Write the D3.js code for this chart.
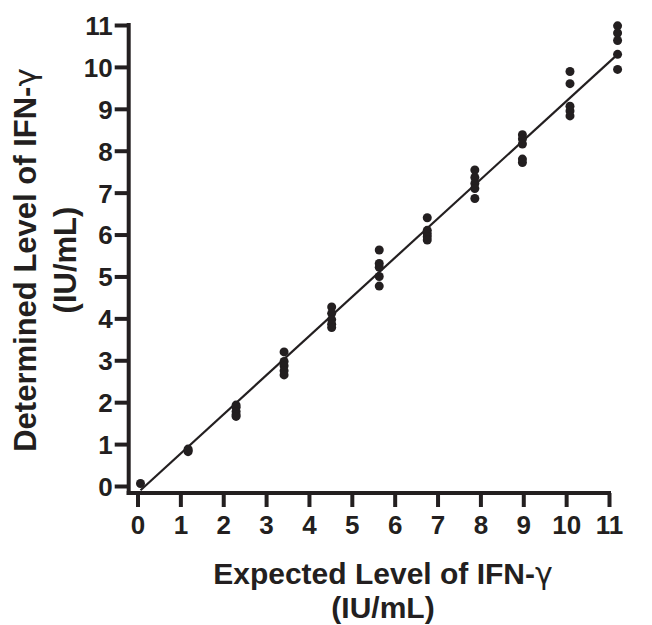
<!DOCTYPE html>
<html>
<head>
<meta charset="utf-8">
<script src="https://cdn.jsdelivr.net/npm/d3@7"></script>
<style>
  html, body { margin: 0; padding: 0; background: #fff; }
  svg { display: block; }
  text { font-family: "Liberation Sans", Arial, sans-serif; font-weight: bold; fill: #231f20; }
  tspan.greek { font-family: "DejaVu Sans", sans-serif; font-weight: normal; }
</style>
</head>
<body>
<svg id="chart" width="652" height="625"></svg>
<script>
// ---- Data ----
const expected = [0.07, 1.18, 2.3, 3.42, 4.53, 5.64, 6.76, 7.87, 8.98, 10.09, 11.2];
const determined = [
  [0.06],
  [0.82, 0.85, 0.88],
  [1.93, 1.88, 1.78, 1.70, 1.66],
  [3.20, 2.97, 2.87, 2.75, 2.65],
  [4.27, 4.12, 3.97, 3.86, 3.78],
  [5.63, 5.31, 5.22, 5.00, 4.77],
  [6.40, 6.10, 6.02, 5.95, 5.87],
  [7.54, 7.36, 7.22, 7.10, 6.86],
  [8.38, 8.28, 8.16, 7.80, 7.72],
  [9.89, 9.60, 9.06, 8.95, 8.83],
  [10.98, 10.81, 10.63, 10.30, 9.94]
];
const fitX = [0.07, 11.2];
const fitY = [-0.1, 10.3];
const xTicks = [0, 1, 2, 3, 4, 5, 6, 7, 8, 9, 10, 11];
const yTicks = [0, 1, 2, 3, 4, 5, 6, 7, 8, 9, 10, 11];
const xTitle = ["Expected Level of IFN-", "\u03B3", "(IU/mL)"];
const yTitle = ["Determined Level of IFN-", "\u03B3", "(IU/mL)"];

const ink = "#231f20";
const svg = d3.select("#chart");

const x = d3.scaleLinear().domain([0, 11]).range([137.5, 609]);
const y = d3.scaleLinear().domain([0, 11]).range([486, 25]);

const xAxisY = 493;
const yAxisX = 128.7;

// X axis (offset below the plot)
const gx = svg.append("g").attr("transform", `translate(0,${xAxisY})`)
  .call(d3.axisBottom(x).tickValues(xTicks).tickFormat(d3.format("d")).tickSize(14).tickPadding(9));
gx.select(".domain").remove();
gx.append("line").attr("x1", yAxisX - 2).attr("x2", x(11) + 2).attr("y1", 0).attr("y2", 0)
  .attr("stroke", ink).attr("stroke-width", 4);
gx.selectAll(".tick line").attr("stroke", ink).attr("stroke-width", 4);
gx.selectAll(".tick text").attr("fill", ink).style("font-size", "26px").attr("dy", "0.71em");

// Y axis (offset left of the plot)
const gy = svg.append("g").attr("transform", `translate(${yAxisX},0)`)
  .call(d3.axisLeft(y).tickValues(yTicks).tickFormat(d3.format("d")).tickSize(14).tickPadding(2));
gy.select(".domain").remove();
gy.append("line").attr("x1", 0).attr("x2", 0).attr("y1", y(11) - 2).attr("y2", xAxisY + 2)
  .attr("stroke", ink).attr("stroke-width", 4);
gy.selectAll(".tick line").attr("stroke", ink).attr("stroke-width", 4);
gy.selectAll(".tick text").attr("fill", ink).style("font-size", "26px").attr("dy", "0.36em");

// Regression line
svg.append("line")
  .attr("x1", x(fitX[0])).attr("y1", y(fitY[0]))
  .attr("x2", x(fitX[1])).attr("y2", y(fitY[1]))
  .attr("stroke", ink).attr("stroke-width", 2.2);

// Points
const pts = [];
expected.forEach((ex, i) => determined[i].forEach(v => pts.push({ ex, v })));
svg.append("g").selectAll("circle").data(pts).join("circle")
  .attr("cx", d => x(d.ex)).attr("cy", d => y(d.v)).attr("r", 4.5).attr("fill", ink);

// Axis titles
const xt = svg.append("text").attr("text-anchor", "middle").style("font-size", "30px")
  .attr("x", 383).attr("y", 584);
xt.append("tspan").text(xTitle[0]);
xt.append("tspan").attr("class", "greek").text(xTitle[1]);
svg.append("text").attr("text-anchor", "middle").style("font-size", "30px")
  .attr("x", 383).attr("y", 618).text(xTitle[2]);

const yg = svg.append("g").attr("transform", "translate(0,260) rotate(-90)");
const yt = yg.append("text").attr("text-anchor", "middle").style("font-size", "31px")
  .attr("x", 0).attr("y", 36);
yt.append("tspan").text(yTitle[0]);
yt.append("tspan").attr("class", "greek").text(yTitle[1]);
yg.append("text").attr("text-anchor", "middle").style("font-size", "31px")
  .attr("x", 0).attr("y", 76).text(yTitle[2]);
</script>
</body>
</html>
